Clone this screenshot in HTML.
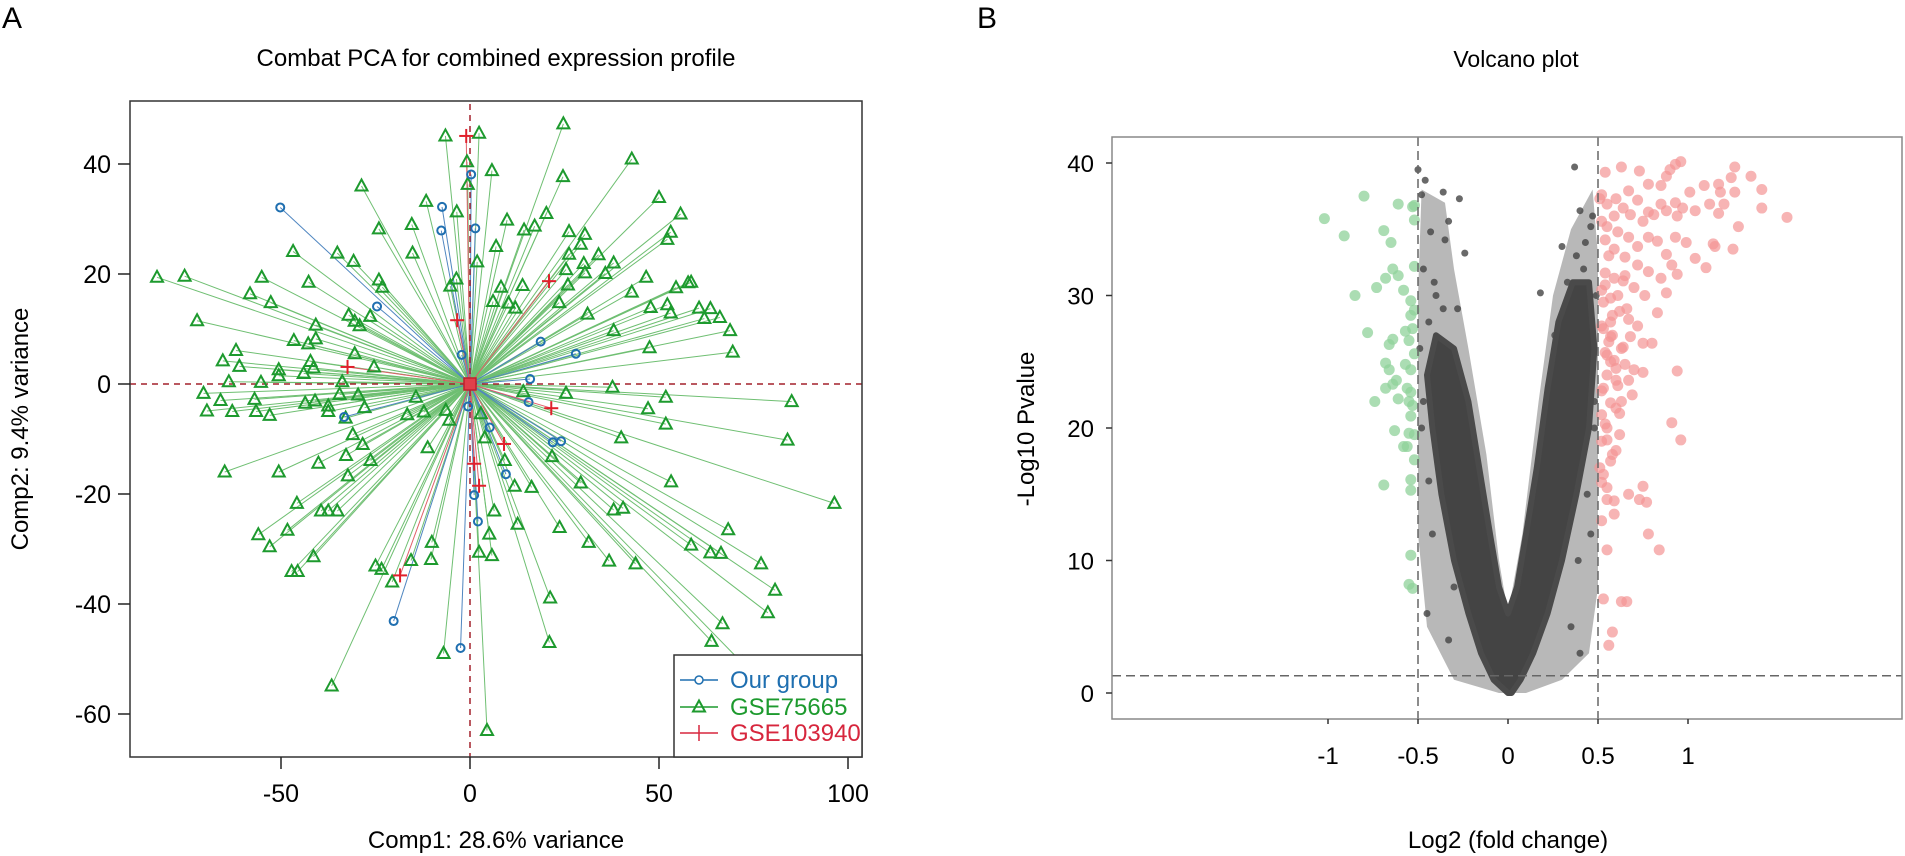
<!DOCTYPE html>
<html><head><meta charset="utf-8"><style>
html,body{margin:0;padding:0;background:#fff;}
svg{display:block;font-family:"Liberation Sans",Arial,sans-serif;}
</style></head><body>
<svg id="fig" width="1905" height="856" viewBox="0 0 1905 856" xmlns="http://www.w3.org/2000/svg">
<text x="2" y="28" font-size="30">A</text>
<text x="977" y="28" font-size="30">B</text>
<text x="496" y="66" font-size="24" text-anchor="middle">Combat PCA for combined expression profile</text>
<text x="1516" y="67" font-size="23" text-anchor="middle">Volcano plot</text>
<text x="496" y="848" font-size="24" text-anchor="middle">Comp1: 28.6% variance</text>
<text transform="translate(28,429) rotate(-90)" font-size="24" text-anchor="middle">Comp2: 9.4% variance</text>
<text x="1508" y="848" font-size="24" text-anchor="middle">Log2 (fold change)</text>
<text transform="translate(1034,429) rotate(-90)" font-size="24" text-anchor="middle">-Log10 Pvalue</text>
<g id="pca"></g>
<g id="volc"></g>
</svg>
<script>
// ---- PCA data ----
const greenX=[-6.5,2.4,-0.8,-0.6,5.8,24.7,42.8,24.6,-28.7,-11.6,-3.5,-15.4,-24.1,9.8,14.3,17.1,20.2,26.2,30.4,29.3,26.2,34,38,30.1,25.4,30.4,35.8,25.9,6.9,1.9,-15.2,-35.1,-30.8,-46.8,-82.8,-75.5,-55.1,-42.7,-58.2,-52.7,-24.1,-23.2,-3.6,-5.2,8.2,13.9,23.6,6.1,10.2,12,31.1,38,46.6,42.8,47.8,52.2,53.1,54.5,57.7,58.5,50,55.7,53.1,52.2,60.6,63.6,62,47.5,-72.2,-32.1,-30.5,-29.2,-26.4,-40.8,-40.8,-46.6,-42.8,-61.9,-65.4,-61,-50.6,-50.6,-42.2,-41.4,-44,-30.5,-25.4,-63.8,-55.3,-33.8,-70.5,-66,-57,-69.6,-62.9,-56.6,-53,-43.6,-41,-37.5,-37.5,-34.5,-29.6,-27.9,-32.9,-14.3,-16.6,-12.2,-6.4,-5.5,-31,-28.4,-32.8,-26.3,-40.1,-50.6,-64.9,-32.3,-11.2,3.9,2.9,14.1,25.4,37.7,51.8,47.1,51.8,40,21.7,9.2,11.8,16.3,29.3,53.2,6.4,12.6,23.7,38,40.5,31.4,5.1,2.4,5.8,36.8,43.8,58.5,63.6,21.2,-10.1,-10.3,-15.6,-25,-23.4,-20.6,-45.8,-39.4,-37.5,-35.1,-48.3,-56,-53,-41.4,-47.2,-45.6,-36.6,21,68.3,66.4,77,80.7,78.8,66.8,63.9,72,96.4,66.1,68.8,69.5,85.1,84,4.5,-7];
const greenY=[45.1,45.6,40.4,36.3,38.8,47.3,40.9,37.7,36,33.2,31.3,29,28.2,29.8,28,28.7,31,27.7,27.2,25.4,23.6,23.5,22,21.9,20.8,20.2,20.1,18,25,22.2,23.8,23.8,22.3,24.1,19.4,19.6,19.4,18.5,16.4,14.8,18.9,17.6,19.1,17.8,17.6,17.9,14.8,15,14.7,13.8,12.7,9.7,19.4,16.7,13.9,14.4,12.9,17.5,18.4,18.5,33.9,30.9,27.6,26.3,13.8,13.7,11.9,6.6,11.5,12.5,11.4,10.6,12.3,10.7,8.2,7.9,7.3,6.1,4.2,3.2,2.6,1.5,4.1,2.9,1.9,5.5,3.1,0.4,0.3,0.4,-1.7,-3,-2.8,-4.9,-5,-5,-5.7,-3.5,-3.1,-4,-5,-1.9,-2,-4.3,-6.2,-2.4,-5.6,-5.1,-4.8,-6.6,-9.2,-11,-13,-13.9,-14.4,-16,-16,-16.7,-11.6,-9.8,-5.4,-1.4,-1.7,-0.6,-2.4,-4.5,-7.3,-9.8,-13.2,-13.9,-18.6,-18.8,-18,-17.8,-23.1,-25.5,-26.1,-22.9,-22.6,-28.8,-27.3,-30.6,-31.2,-32.2,-32.7,-29.3,-30.7,-38.9,-28.8,-31.9,-32.1,-33.1,-33.7,-36,-21.7,-23.1,-23.1,-23.1,-26.6,-27.4,-29.6,-31.4,-34.1,-34.1,-54.9,-47,-26.5,-30.8,-32.7,-37.5,-41.6,-43.6,-46.8,-50.7,-21.7,12.1,9.7,5.8,-3.2,-10.2,-63,-49];
const blueX=[-50.2,-7.4,-7.6,0.3,1.4,-24.6,-2.2,18.7,28,15.9,15.5,21.9,24.1,-33.3,-0.5,5.2,9.5,1.1,2.1,-20.2,-2.5];
const blueY=[32.1,32.2,27.9,38.1,28.3,14.1,5.3,7.7,5.5,0.9,-3.3,-10.6,-10.4,-6,-4.1,-7.9,-16.4,-20.2,-25,-43.1,-48];
const redX=[-1,-3.4,-32.4,20.9,21.5,9,1.1,2.4,-18.5];
const redY=[45.1,11.6,3.1,18.7,-4.4,-10.9,-14.5,-18.5,-34.8];
const pcaXTicks=[-50,0,50,100];
const pcaYTicks=[40,20,0,-20,-40,-60];

// ---- Volcano data ----
const downX=[-0.80,-1.02,-0.91,-0.61,-0.53,-0.52,-0.52,-0.69,-0.65,-0.64,-0.61,-0.68,-0.58,-0.52,-0.73,-0.85,-0.54,-0.54,-0.52,-0.78,-0.53,-0.57,-0.64,-0.66,-0.55,-0.52,-0.68,-0.66,-0.57,-0.54,-0.62,-0.64,-0.68,-0.56,-0.54,-0.74,-0.61,-0.55,-0.53,-0.54,-0.63,-0.55,-0.52,-0.58,-0.56,-0.52,-0.69,-0.54,-0.54,-0.54,-0.55,-0.53];
const downY=[37.5,35.8,34.5,36.9,36.7,35.7,36.8,34.9,34,32,31.5,31.3,30.4,32.2,30.6,30,29.6,28.5,28.9,27.2,27.5,27.3,26.7,26.3,26.6,25.6,24.9,24.4,24.8,24.4,23.6,23.3,23,23,22.7,22,22.2,22,21.7,20.9,19.8,19.6,19.5,18.6,18.6,17.6,15.7,16.1,15.3,10.4,8.2,7.9];
const upX=[0.54,0.63,0.73,0.78,0.85,0.88,0.90,0.96,0.93,1.26,1.35,1.41,1.17,1.09,1.01,1.24,1.18,1.26,1.41,1.55,1.28,1.20,1.12,1.17,1.04,0.97,0.93,0.85,0.78,0.72,0.67,0.60,0.52,0.51,0.55,0.64,0.59,0.68,0.75,0.81,0.88,0.94,0.93,0.99,1.04,1.10,1.14,1.25,1.15,0.88,0.83,0.78,0.72,0.67,0.61,0.55,0.52,0.54,0.59,0.65,0.72,0.78,0.85,0.91,0.94,0.88,0.83,0.76,0.70,0.64,0.59,0.54,0.52,0.57,0.62,0.67,0.72,0.75,0.80,0.68,0.64,0.57,0.52,0.54,0.59,0.65,0.70,0.75,0.67,0.60,0.55,0.52,0.57,0.62,0.54,0.52,0.55,0.60,0.94,0.91,0.96,0.51,0.52,0.55,0.75,0.67,0.73,0.77,0.55,0.59,0.59,0.52,0.78,0.84,0.55,0.53,0.63,0.66,0.58,0.56,0.56,0.61,0.66,0.53,0.58,0.63,0.57,0.69,0.53,0.60,0.55,0.62,0.58,0.53,0.65,0.57,0.53,0.56,0.60,0.63,0.52,0.58,0.54,0.61,0.57,0.55];
const upY=[39.3,39.7,39.4,38.4,38.3,39.0,39.5,40.1,39.9,39.7,39.0,38.0,38.4,38.3,37.8,38.9,37.8,37.8,36.6,35.9,35.2,36.9,36.9,36.2,36.4,36.6,37.0,36.9,36.3,37.2,37.9,37.3,37.6,37.3,36.9,36.6,36.0,36.1,35.6,36.1,36.4,36.0,34.4,34.0,32.8,32.1,33.9,33.5,33.7,33.1,34.1,34.4,33.7,34.4,34.8,35.2,35.6,34.2,33.5,32.9,32.3,31.8,31.3,32.3,31.6,30.2,28.7,30.0,30.6,31.1,31.3,31.7,30.4,29.8,28.8,28.2,27.7,26.4,26.4,26.9,26.1,26.9,27.7,25.7,25.1,24.8,24.4,24.2,23.6,23.6,24.0,22.8,21.9,21.1,20.3,19.0,19.1,18.3,24.3,20.4,19.1,17.0,15.9,15.5,15.6,15.0,14.6,14.4,14.6,14.5,13.5,13.0,12.0,10.8,10.8,7.1,6.9,6.9,4.6,3.6,33.0,30.0,29.0,27.5,28.5,26.0,25.0,22.5,23.0,21.5,20.0,19.5,18.0,16.5,31.5,17.5,29.5,26.5,24.5,22.0,21.0,27.0,30.8,23.2,28.0,25.5];
// density envelope of non-significant genes (outline of the dense V)
const coreX=[0,-0.08,-0.15,-0.22,-0.30,-0.37,-0.42,-0.45,-0.40,-0.30,-0.22,-0.16,-0.10,-0.05,0,0.05,0.10,0.16,0.22,0.28,0.36,0.45,0.48,0.45,0.38,0.30,0.22,0.14,0.07,0.02];
const coreY=[0,1,3,6,10,15,20,24,27,26,22,17,12,8,6,8,12,17,23,28,31,31,26,20,15,10,6,3,1,0];
const haloX=[-0.05,-0.30,-0.45,-0.50,-0.50,-0.48,-0.35,-0.30,-0.22,-0.12,-0.05,0,0.08,0.17,0.25,0.35,0.47,0.50,0.50,0.45,0.30,0.10];
const haloY=[0,1,5,12,30,38,37,32,26,18,10,6,12,22,30,35,38,33,8,3,1,0];
const nsX=[-0.50,-0.46,-0.48,-0.36,-0.27,-0.33,-0.43,-0.35,-0.24,0.37,0.40,0.46,0.30,0.18,-0.40,-0.44,-0.38,-0.47,-0.30,0.42,0.45,0.48,0.44,0.39,-0.42,-0.45,-0.33,0.35,0.40,-0.38,-0.47,-0.49,-0.41,-0.36,0.47,0.49,0.43,0.38,0.33,-0.28,0.26,-0.44,0.46,-0.48,0.48];
const nsY=[39.5,38.7,37.6,37.8,37.3,35.6,34.8,34.2,33.2,39.7,36.4,35.2,33.7,30.2,30,28,25,22,8,32,28,20,15,10,12,6,4,5,3,18,32,26,31,29,36,30,34,33,31,29,27,16,12,20,22];
const volXTicks=[-1,-0.5,0,0.5,1];
const volXLabels=["-1","-0.5","0","0.5","1"];
const volYTicks=[0,10,20,30,40];
const volThreshX=[-0.5,0.5];
const volThreshY=1.3;

const NS="http://www.w3.org/2000/svg";
function mk(tag,attrs,parent){const e=document.createElementNS(NS,tag);for(const k in attrs)e.setAttribute(k,attrs[k]);parent.appendChild(e);return e;}

// ---- PCA ----
const pX=v=>470+3.78*v, pY=v=>384-5.5*v;
const A=document.getElementById('pca');
const GL=mk('g',{},A);


function lines(xs,ys,col,name){for(let i=0;i<Math.min(xs.length,ys.length);i++){const l=mk('line',{x1:pX(0),y1:pY(0),x2:pX(xs[i]),y2:pY(ys[i]),stroke:col,'stroke-width':1},GL);

}}
lines(greenX,greenY,'#6fbf72','gse75665');
lines(blueX,blueY,'#4f86c0','our-group');
lines(redX,redY,'#e0606a','gse103940');
let zl=mk('line',{x1:130,x2:862,y1:pY(0),y2:pY(0),stroke:'#a3212c','stroke-width':1.5,'stroke-dasharray':'6,5'},A);


zl=mk('line',{x1:pX(0),x2:pX(0),y1:104,y2:757,stroke:'#a3212c','stroke-width':1.5,'stroke-dasharray':'6,5'},A);


function tri(x,y,col,parent){const s=6;return mk('polygon',{points:`${x-s},${y+4.5} ${x+s},${y+4.5} ${x},${y-6.5}`,fill:'none',stroke:col,'stroke-width':2},parent);}
for(let i=0;i<Math.min(greenX.length,greenY.length);i++){const t=tri(pX(greenX[i]),pY(greenY[i]),'#1d9a2e',A);

}
for(let i=0;i<Math.min(blueX.length,blueY.length);i++){const c=mk('circle',{cx:pX(blueX[i]),cy:pY(blueY[i]),r:4,fill:'none',stroke:'#1f6fb0','stroke-width':2},A);

}
function plus(x,y,col,parent){const g=mk('g',{stroke:col,'stroke-width':2},parent);mk('line',{x1:x-7,x2:x+7,y1:y,y2:y},g);mk('line',{x1:x,x2:x,y1:y-7,y2:y+7},g);return g;}
for(let i=0;i<Math.min(redX.length,redY.length);i++){const p=plus(pX(redX[i]),pY(redY[i]),'#e0202c',A);

}
const ctr=mk('rect',{x:pX(0)-6,y:pY(0)-6,width:12,height:12,fill:'#e0404a',stroke:'#c0202c','stroke-width':1.5},A);


const fr=mk('rect',{x:130,y:101,width:732,height:656,fill:'none',stroke:'#333','stroke-width':1.5},A);


for(const t of pcaXTicks){mk('line',{x1:pX(t),x2:pX(t),y1:757,y2:769,stroke:'#222','stroke-width':1.5},A);
const tx=mk('text',{x:pX(t),y:802,'font-size':25,'text-anchor':'middle'},A);tx.textContent=t;

}
for(const t of pcaYTicks){mk('line',{x1:118,x2:130,y1:pY(t),y2:pY(t),stroke:'#222','stroke-width':1.5},A);
const tx=mk('text',{x:111,y:pY(t)+9,'font-size':25,'text-anchor':'end'},A);tx.textContent=t;

}
const LG=mk('g',{},A);


mk('rect',{x:674,y:655,width:188,height:102,fill:'#fff',stroke:'#333','stroke-width':1.5},LG);
const legs=[['Our group','#1f6fb0',680],['GSE75665','#1d9a2e',707],['GSE103940','#d7263d',733]];
legs.forEach((L,i)=>{mk('line',{x1:680,x2:718,y1:L[2],y2:L[2],stroke:L[1],'stroke-width':1.5},LG);
if(i==0)mk('circle',{cx:699,cy:L[2],r:4,fill:'#fff',stroke:L[1],'stroke-width':1.5},LG);
if(i==1)tri(699,L[2],L[1],LG);
if(i==2)mk('line',{x1:699,x2:699,y1:L[2]-8,y2:L[2]+8,stroke:L[1],'stroke-width':1.5},LG);
const tx=mk('text',{x:730,y:L[2]+8,'font-size':24,fill:L[1]},LG);tx.textContent=L[0];

});

// ---- Volcano ----
const vX=v=>1508+180*v, vY=v=>693-13.25*v;
const B=document.getElementById('volc');
const halo=mk('polygon',{points:haloX.map((x,i)=>vX(x)+','+vY(haloY[i])).join(' '),fill:'#555',opacity:0.42},B);


for(let i=0;i<Math.min(nsX.length,nsY.length);i++){const c=mk('circle',{cx:vX(nsX[i]),cy:vY(nsY[i]),r:3.5,fill:'#444',opacity:0.8},B);

}
const core=mk('polygon',{points:coreX.map((x,i)=>vX(x)+','+vY(coreY[i])).join(' '),fill:'#444',stroke:'#4a4a4a','stroke-width':6,'stroke-linejoin':'round'},B);


for(let i=0;i<Math.min(downX.length,downY.length);i++){const c=mk('circle',{cx:vX(downX[i]),cy:vY(downY[i]),r:5.5,fill:'#8fd19a',opacity:0.75},B);

}
for(let i=0;i<Math.min(upX.length,upY.length);i++){const c=mk('circle',{cx:vX(upX[i]),cy:vY(upY[i]),r:5.5,fill:'#f39494',opacity:0.7},B);

}
for(const t of volThreshX){const l=mk('line',{x1:vX(t),x2:vX(t),y1:137,y2:719,stroke:'#666','stroke-width':1.5,'stroke-dasharray':'9,5'},B);

}
const hl=mk('line',{x1:1112,x2:1902,y1:vY(volThreshY),y2:vY(volThreshY),stroke:'#666','stroke-width':1.5,'stroke-dasharray':'9,5'},B);


const vf=mk('rect',{x:1112,y:137,width:790,height:582,fill:'none',stroke:'#888','stroke-width':1.5},B);


volXTicks.forEach((t,i)=>{mk('line',{x1:vX(t),x2:vX(t),y1:719,y2:724,stroke:'#333','stroke-width':1.5},B);
const tx=mk('text',{x:vX(t),y:764,'font-size':24,'text-anchor':'middle'},B);tx.textContent=volXLabels[i];

});
for(const t of volYTicks){mk('line',{x1:1106,x2:1112,y1:vY(t),y2:vY(t),stroke:'#333','stroke-width':1.5},B);
const tx=mk('text',{x:1094,y:vY(t)+9,'font-size':24,'text-anchor':'end'},B);tx.textContent=t;

}
</script>
</body></html>
